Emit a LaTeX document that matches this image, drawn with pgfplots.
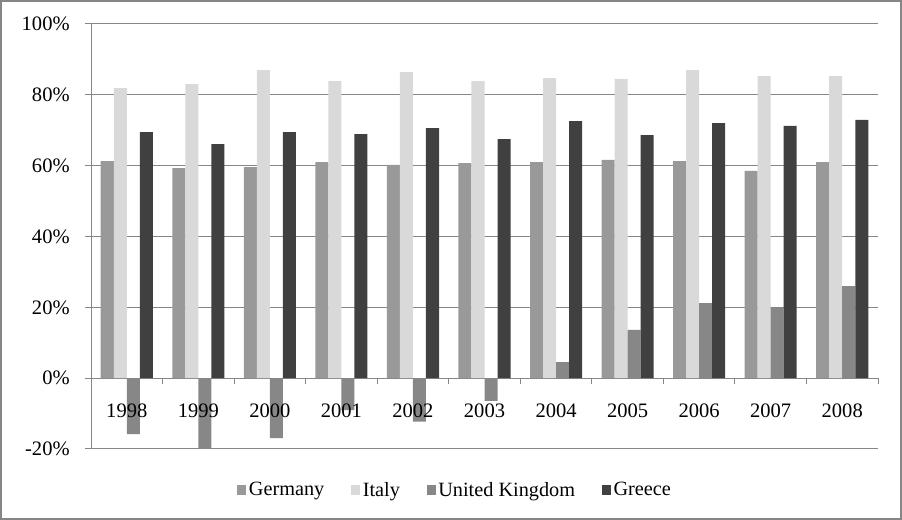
\documentclass[border=0pt]{standalone}
\usepackage{fontspec}
\setmainfont{Liberation Serif}
\usepackage{pgfplots}
\pgfplotsset{compat=1.18}
\definecolor{gridgray}{HTML}{868686}
\definecolor{cGermany}{HTML}{999999}
\definecolor{cItaly}{HTML}{D9D9D9}
\definecolor{cUK}{HTML}{878787}
\definecolor{cGreece}{HTML}{404040}

\begin{document}
\begin{tikzpicture}
\begin{axis}[
  at={(68.25pt,53.25pt)}, anchor=south west,
  scale only axis, width=590.25pt, height=318.75pt,
  xmin=-0.5, xmax=10.5, ymin=-20, ymax=100,
  axis y line*=left, axis x line*=middle,
  axis line style={gridgray, line width=0.75pt},
  ybar=0pt, bar width=0.182,
  ytick={-20,0,...,100},
  yticklabel={\pgfmathprintnumber{\tick}\%},
  /pgf/number format/assume math mode=true,
  ymajorgrids, grid style={gridgray, line width=0.75pt},
  ytick align=outside, xtick align=outside,
  major tick length=4.5pt,
  tick style={gridgray, line width=0.75pt},
  xtick={-0.5,0.5,...,10.5}, xticklabels={},
  ticklabel style={font=\fontsize{15.4}{18}\selectfont},
  yticklabel style={xshift=-8pt},
  legend columns=4,
  legend style={at={(0.463,-0.0965)}, anchor=center, draw=none, fill=none,
    font=\fontsize{15.2}{18}\selectfont,
    /tikz/every even column/.append style={column sep=18pt}},
  legend image code/.code={\fill[#1] (0pt,-3.4pt) rectangle (6.8pt,3.4pt);},
]
\addplot[fill=cGermany, draw=none] coordinates {
  (0,61.3) (1,59.3) (2,59.6) (3,61.0) (4,60.2) (5,60.7)
  (6,61.0) (7,61.6) (8,61.3) (9,58.5) (10,61.0)};
\addlegendentry{Germany}
\addplot[fill=cItaly, draw=none] coordinates {
  (0,81.9) (1,83.0) (2,87.0) (3,83.9) (4,86.4) (5,83.9)
  (6,84.7) (7,84.5) (8,87.0) (9,85.3) (10,85.3)};
\addlegendentry{Italy}
\addplot[fill=cUK, draw=none] coordinates {
  (0,-15.8) (1,-20.0) (2,-16.9) (3,-9.0) (4,-12.3) (5,-6.4)
  (6,4.5) (7,13.6) (8,21.2) (9,20.0) (10,26.0)};
\addlegendentry{United Kingdom}
\addplot[fill=cGreece, draw=none] coordinates {
  (0,69.5) (1,66.1) (2,69.5) (3,68.9) (4,70.6) (5,67.5)
  (6,72.6) (7,68.6) (8,72.0) (9,71.2) (10,72.9)};
\addlegendentry{Greece}
% year labels sit on top of the bars
\pgfplotsinvokeforeach{0,...,10}{
  \node[anchor=north, yshift=-19pt, inner sep=0pt, font=\fontsize{15.4}{18}\selectfont]
    at (axis cs:#1,0) {\the\numexpr1998+#1\relax};
}
\end{axis}
\pgfresetboundingbox
\path[use as bounding box] (0,0) rectangle (676.5pt,390pt);
\draw[gridgray, line width=1.8pt] (0.9pt,0.9pt) rectangle (675.6pt,389.1pt);
\end{tikzpicture}
\end{document}
